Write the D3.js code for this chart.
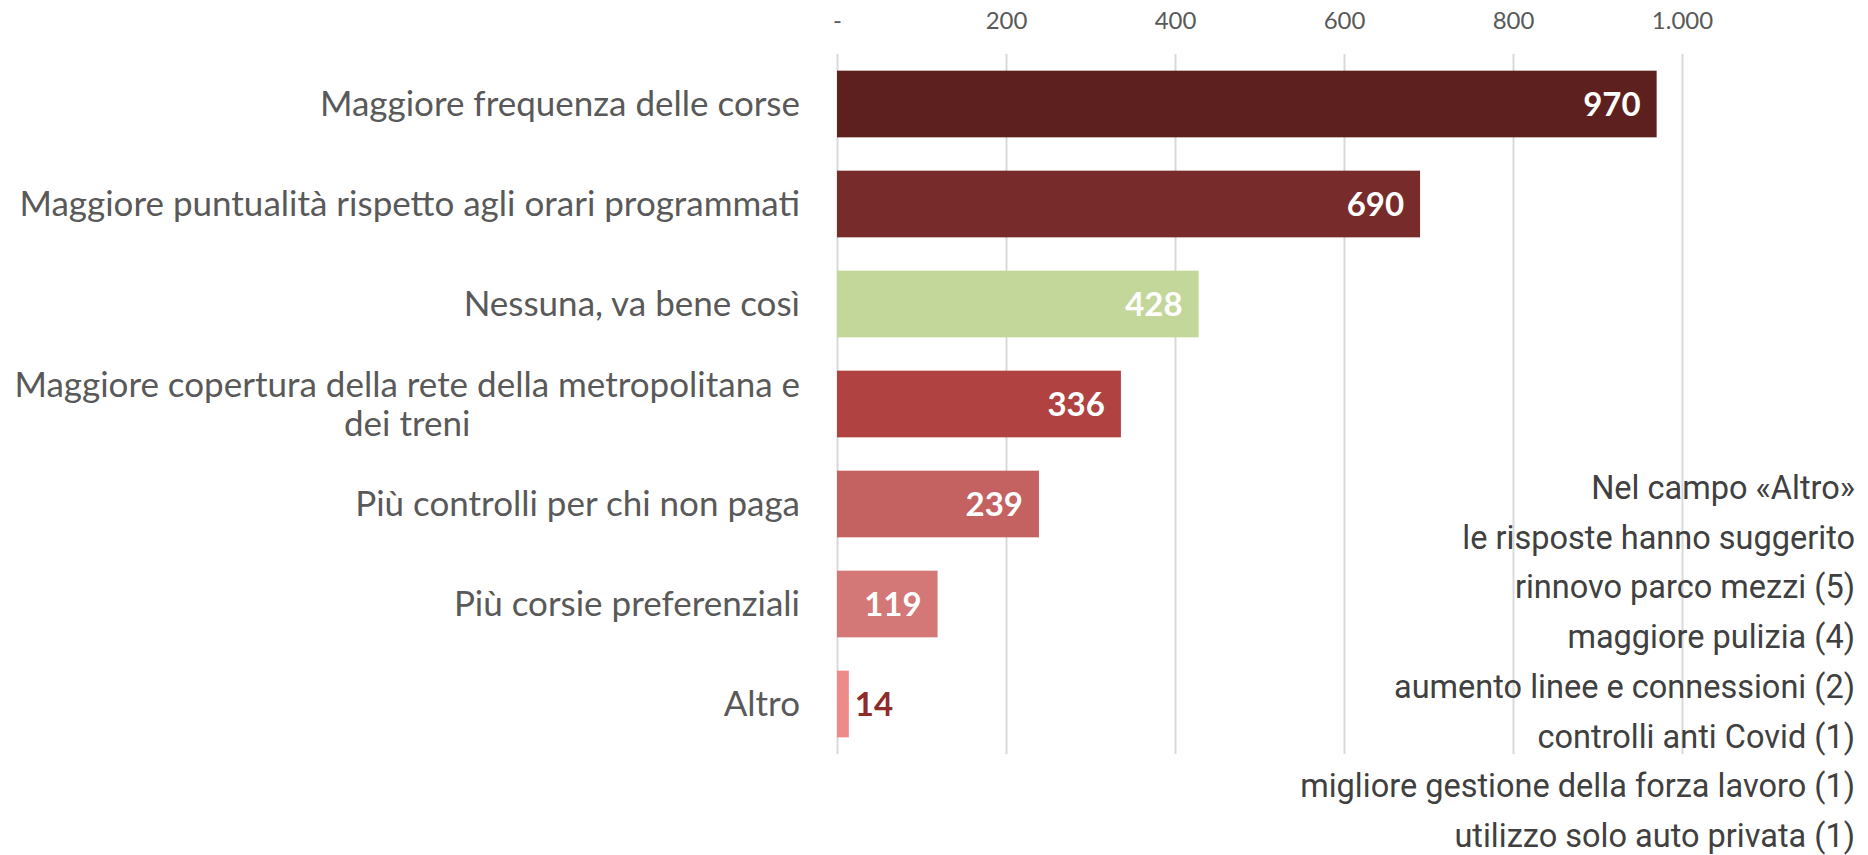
<!DOCTYPE html>
<html>
<head>
<meta charset="utf-8">
<script src="https://cdn.jsdelivr.net/npm/d3@7"></script>
<style>
  body { margin: 0; background: #fff; }
  svg { display: block; }
</style>
</head>
<body>
<div id="chart"></div>
<script>
// chart data
const categories = [
  'Maggiore frequenza delle corse',
  'Maggiore puntualità rispetto agli orari programmati',
  'Nessuna, va bene così',
  'Maggiore copertura della rete della metropolitana e|dei treni',
  'Più controlli per chi non paga',
  'Più corsie preferenziali',
  'Altro'
];
const values = [970, 690, 428, 336, 239, 119, 14];
const barColors = ['#5e1f1f', '#772b2b', '#c4d79b', '#b04242', '#c46161', '#d47777', '#ef8a8a'];
const tickValues = [0, 200, 400, 600, 800, 1000];
const tickLabels = ['-', '200', '400', '600', '800', '1.000'];
const altroNotes = [
  'Nel campo «Altro»',
  'le risposte hanno suggerito',
  'rinnovo parco mezzi (5)',
  'maggiore pulizia (4)',
  'aumento linee e connessioni (2)',
  'controlli anti Covid (1)',
  'migliore gestione della forza lavoro (1)',
  'utilizzo solo auto privata (1)'
];

const config = {
  width: 1868,
  height: 855,
  margin: { top: 54, left: 837, right: 186, bottom: 101 },
  labelFont: 'Lato, "Open Sans", sans-serif'
};

const data = categories.map((c, i) => ({ label: c, value: values[i], color: barColors[i] }));

const innerW = config.width - config.margin.left - config.margin.right;
const innerH = config.height - config.margin.top - config.margin.bottom;

const svg = d3.select('#chart')
  .append('svg')
  .attr('width', config.width)
  .attr('height', config.height);

const chart = svg.append('g')
  .attr('transform', `translate(${config.margin.left},${config.margin.top})`);

// scales
const xScale = d3.scaleLinear()
  .domain([0, 1000])
  .range([0, innerW]);

const yScale = d3.scaleBand()
  .domain(categories)
  .range([0, innerH])
  .paddingInner(1 / 3)
  .paddingOuter(1 / 6);

// top axis with gridlines running down
const xAxis = d3.axisTop(xScale)
  .tickValues(tickValues)
  .tickFormat((d, i) => tickLabels[i])
  .tickSize(-innerH)
  .tickPadding(0);

const xAxisG = chart.append('g')
  .attr('class', 'x-axis')
  .call(xAxis)
  .call(g => g.select('.domain').remove());

xAxisG.selectAll('.tick line')
  .attr('stroke', '#d9d9d9')
  .attr('stroke-width', 2);

xAxisG.selectAll('.tick text')
  .attr('y', -33)
  .attr('dy', '0.35em')
  .attr('fill', '#595959')
  .style('font-family', config.labelFont)
  .style('font-size', '24px');

// bars
chart.selectAll('.bar')
  .data(data)
  .join('rect')
  .attr('class', 'bar')
  .attr('x', xScale(0))
  .attr('y', d => yScale(d.label))
  .attr('width', d => xScale(d.value) - xScale(0))
  .attr('height', yScale.bandwidth())
  .attr('fill', d => d.color);

// value labels: inside the bar, or just past it when the bar is too short
const isShort = d => xScale(d.value) < 60;
chart.selectAll('.value-label')
  .data(data)
  .join('text')
  .attr('class', 'value-label')
  .attr('x', d => isShort(d) ? xScale(d.value) + 6 : xScale(d.value) - 16)
  .attr('y', d => yScale(d.label) + yScale.bandwidth() / 2)
  .attr('dy', '0.36em')
  .attr('text-anchor', d => isShort(d) ? 'start' : 'end')
  .attr('fill', d => isShort(d) ? '#8e2c2c' : '#ffffff')
  .style('font-family', config.labelFont)
  .style('font-weight', 700)
  .style('font-size', '33px')
  .text(d => d.value);

// category labels (a "|" splits a label into two lines, the second centred under the first)
const catLabels = chart.selectAll('.cat-label')
  .data(data)
  .join('text')
  .attr('class', 'cat-label')
  .attr('text-anchor', 'end')
  .attr('fill', '#595959')
  .style('font-family', config.labelFont)
  .style('font-size', '35px')
  .attr('transform', d => `translate(-37,${yScale(d.label) + yScale.bandwidth() / 2})`);

catLabels.each(function(d) {
  const lines = d.label.split('|');
  const lineH = 39;
  const t = d3.select(this);
  let firstW = 0;
  lines.forEach((ln, i) => {
    const span = t.append('tspan')
      .attr('x', 0)
      .attr('y', (i - (lines.length - 1) / 2) * lineH)
      .attr('dy', '0.35em')
      .text(ln);
    if (i === 0) {
      firstW = span.node().getComputedTextLength();
    } else {
      span.attr('text-anchor', 'middle').attr('x', -firstW / 2);
    }
  });
});

// note about the "Altro" answers
svg.append('g')
  .attr('class', 'altro-notes')
  .selectAll('text')
  .data(altroNotes)
  .join('text')
  .attr('x', 1855)
  .attr('y', (d, i) => 499 + i * 49.7)
  .attr('text-anchor', 'end')
  .attr('fill', '#404040')
  .style('font-family', 'Roboto, sans-serif')
  .style('font-size', '32.5px')
  .text(d => d);
</script>
</body>
</html>
